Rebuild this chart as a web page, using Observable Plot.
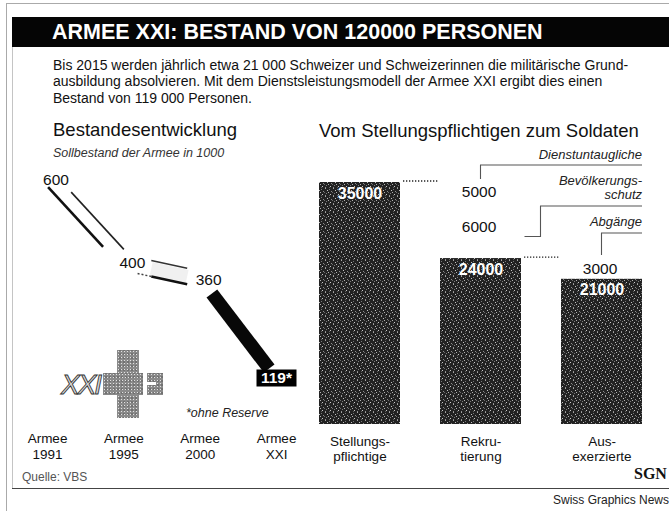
<!DOCTYPE html>
<html>
<head>
<meta charset="utf-8">
<script src="https://cdn.jsdelivr.net/npm/d3@7"></script>
<script src="https://cdn.jsdelivr.net/npm/@observablehq/plot@0.6"></script>
<style>
html, body { margin: 0; padding: 0; background: #fff; }
#page { position: relative; width: 669px; height: 511px; overflow: hidden; background: #fff;
  font-family: "Liberation Sans", Arial, Helvetica, sans-serif; color: #111; }
.abs { position: absolute; white-space: nowrap; line-height: 1; }
.rule { position: absolute; }
#left, #right { position: absolute; }
#left svg, #right svg { overflow: visible; background: transparent; }
.cross { position: absolute; background-color: #8a8a8a;
  background-image: radial-gradient(#e2e2e2 0.7px, transparent 0.9px), radial-gradient(#555 0.6px, transparent 0.8px);
  background-size: 3px 3px, 4px 4px; background-position: 0 0, 1px 2px; }
</style>
</head>
<body>
<div id="page">
  <svg width="0" height="0" style="position:absolute">
    <defs>
      <pattern id="stipple" width="8" height="8" patternUnits="userSpaceOnUse">
        <rect width="8" height="8" fill="#222"/>
        <rect x="1" y="0" width="1" height="1" fill="#a5a5a5"/>
        <rect x="5" y="1" width="1" height="1" fill="#777"/>
        <rect x="3" y="2" width="1" height="1" fill="#c0c0c0"/>
        <rect x="7" y="3" width="1" height="1" fill="#8a8a8a"/>
        <rect x="0" y="4" width="1" height="1" fill="#6a6a6a"/>
        <rect x="4" y="4" width="1" height="1" fill="#b0b0b0"/>
        <rect x="2" y="5" width="1" height="1" fill="#7c7c7c"/>
        <rect x="6" y="6" width="1" height="1" fill="#c8c8c8"/>
        <rect x="1" y="7" width="1" height="1" fill="#909090"/>
        <rect x="5" y="7" width="1" height="1" fill="#5e5e5e"/>
      </pattern>
    </defs>
  </svg>
  <!-- frame -->
  <div class="rule" style="left:6px;top:3px;width:663px;height:1px;background:#aaa"></div>
  <div class="rule" style="left:6px;top:3px;width:1px;height:508px;background:#aaa"></div>
  <div class="rule" style="left:12px;top:47px;width:1px;height:441px;background:#c4c4c4"></div>
  <div class="rule" style="left:12px;top:488px;width:657px;height:1px;background:#444"></div>
  <!-- title bar -->
  <div class="rule" style="left:12px;top:17px;width:657px;height:30px;background:#050505"></div>
  <div class="abs" id="title" style="left:52px;top:22px;font-size:21.5px;font-weight:bold;color:#fff;">ARMEE XXI: BESTAND VON 120000 PERSONEN</div>
  <div class="abs" style="left:53px;top:57px;font-size:14px;line-height:16.3px;color:#111;white-space:pre;">Bis 2015 werden jährlich etwa 21 000 Schweizer und Schweizerinnen die militärische Grund-
ausbildung absolvieren. Mit dem Dienstsleistungsmodell der Armee XXI ergibt dies einen
Bestand von 119 000 Personen.</div>
  <!-- panel headings -->
  <div class="abs" style="left:53px;top:121px;font-size:18.5px;color:#111;">Bestandesentwicklung</div>
  <div class="abs" style="left:53px;top:147px;font-size:12.5px;font-style:italic;color:#333;">Sollbestand der Armee in 1000</div>
  <div class="abs" style="left:319px;top:122px;font-size:18.5px;color:#111;">Vom Stellungspflichtigen zum Soldaten</div>
  <!-- logo -->
  <div class="abs" style="left:61px;top:371px;font-size:28px;font-style:italic;letter-spacing:-2px;color:#d8d8d8;-webkit-text-stroke:0.9px #333;">XXI</div>
  <div class="cross" style="left:117px;top:350px;width:22px;height:68px;"></div>
  <div class="cross" style="left:103px;top:373px;width:40px;height:22px;"></div>
  <div class="cross" style="left:147px;top:373px;width:16px;height:22px;"></div>
  <div class="rule" style="left:147px;top:382px;width:9px;height:3px;background:#fff;"></div>
  <div class="abs" style="left:186px;top:407px;font-size:12.5px;font-style:italic;color:#222;">*ohne Reserve</div>
  <!-- charts -->
  <div id="left" style="left:0px;top:160px;"></div>
  <div id="right" style="left:300px;top:140px;"></div>
  <!-- footer -->
  <div class="abs" style="left:22px;top:471px;font-size:12px;color:#555;">Quelle: VBS</div>
  <div class="abs" style="left:634px;top:466px;font-size:16px;font-weight:bold;font-family:'Liberation Serif',serif;color:#111;">SGN</div>
  <div class="abs" style="left:553px;top:494px;font-size:12px;color:#222;">Swiss Graphics News</div>
</div>
<script>
// ---------- data: left panel ----------
const armeeLabels = ["Armee\n1991", "Armee\n1995", "Armee\n2000", "Armee\nXXI"];
const bestand = [600, 400, 360, 119];          // Sollbestand in 1000
const bestandText = ["600", "400", "360", "119*"];

// ---------- data: right panel ----------
const stages = ["Stellungspflichtige", "Rekrutierung", "Ausexerzierte"];
const stageTicks = ["Stellungs-\npflichtige", "Rekru-\ntierung", "Aus-\nexerzierte"];
const personen = [35000, 24000, 21000];
const personenText = ["35000", "24000", "21000"];
const lossNames = ["Dienstuntaugliche", "Bevölkerungs-\nschutz", "Abgänge"];
const lossValues = [5000, 6000, 3000];
const lossText = ["5000", "6000", "3000"];
const lossStage = ["Rekrutierung", "Rekrutierung", "Ausexerzierte"];

// ---------- left chart ----------
const pts = bestand.map((v, i) => ({i, v, label: bestandText[i]}));
function seg(k, t0, t1) {
  const a = pts[k], b = pts[k + 1];
  return [{x1: a.i + t0 * (b.i - a.i), y1: a.v + t0 * (b.v - a.v),
           x2: a.i + t1 * (b.i - a.i), y2: a.v + t1 * (b.v - a.v)}];
}
const L = {x1: "x1", y1: "y1", x2: "x2", y2: "y2"};
const rectSymbol = { draw(ctx) { ctx.rect(-20, -8.5, 40, 17); } };

const left = Plot.plot({
  width: 310, height: 320,
  marginLeft: 47, marginRight: 34, marginTop: 20, marginBottom: 51,
  style: {background: "transparent", color: "#111", fontFamily: "'Liberation Sans', Arial, sans-serif"},
  x: {domain: [0, armeeLabels.length - 1]},
  y: {domain: [0, 600], axis: null},
  marks: [
    // 1991 -> 1995: outlined ribbon
    Plot.link(seg(0, 0.08, 0.80), {...L, dx: -5.5, stroke: "#111", strokeWidth: 2.6}),
    Plot.link(seg(0, 0.14, 0.83), {...L, dx: 13, stroke: "#222", strokeWidth: 1.6}),
    // 1995 -> 2000: light ribbon
    Plot.link(seg(1, 0.36, 0.83), {...L, dy: -1, stroke: "#f0f0f0", strokeWidth: 13}),
    Plot.link(seg(1, 0.36, 0.83), {...L, dy: -9, stroke: "#333", strokeWidth: 1.5}),
    Plot.link(seg(1, 0.18, 0.36), {...L, dy: 7, stroke: "#444", strokeWidth: 1.5, strokeDasharray: "2,2"}),
    Plot.link(seg(1, 0.36, 0.83), {...L, dy: 7, stroke: "#111", strokeWidth: 2.6}),
    // 2000 -> XXI: solid band
    Plot.link(seg(2, 0.134, 0.884), {...L, dx: 1.5, stroke: "#080808", strokeWidth: 13.5, strokeLinecap: "butt"}),
    // value labels
    Plot.text(pts.slice(0, 3), {x: "i", y: "v", text: "label", dx: 8.5, fontSize: 15.5, fill: "#111"}),
    Plot.dot(pts.slice(3), {x: "i", y: "v", symbol: rectSymbol, r: 10, fill: "#000", stroke: "none", dy: -2}),
    Plot.text(pts.slice(3), {x: "i", y: "v", text: "label", dy: -2, fill: "#fff", fontWeight: "bold", fontSize: 15.5}),
    Plot.axisX(d3.range(armeeLabels.length), {tickFormat: i => armeeLabels[i], tickSize: 0, tickPadding: 2,
      fontSize: 13.5, lineHeight: 1.18, label: null})
  ]
});
document.getElementById("left").append(left);

// ---------- right chart ----------
const bars = stages.map((s, i) => ({stage: s, value: personen[i], text: personenText[i]}));
const losses = lossNames.map((name, i) => {
  const base = personen[stages.indexOf(lossStage[i])];
  let top = base;
  lossValues.forEach((v, j) => { if (lossStage[j] === lossStage[i] && j >= i) top += v; });
  return {name, value: lossValues[i], text: lossText[i], stage: lossStage[i], top};
});

function annotations(index, scales) {
  const x = scales.x, y = scales.y;
  const bw = x.bandwidth ? x.bandwidth() : 0;
  const cx = s => x(s) + bw / 2;
  const right = x(stages[stages.length - 1]) + bw;
  const g = d3.create("svg:g");
  // dotted continuation lines at bar tops
  bars.slice(0, 2).forEach(b => {
    g.append("line")
      .attr("x1", x(b.stage) + bw + 3).attr("x2", x(b.stage) + bw + 38)
      .attr("y1", y(b.value) - 1).attr("y2", y(b.value) - 1)
      .attr("stroke", "#222").attr("stroke-width", 1.3).attr("stroke-dasharray", "1.3,1.7");
  });
  // label column with leader lines
  let leader = y(personen[0]) - 17;
  losses.forEach((d, i) => {
    const lines = d.name.split("\n");
    let first;
    if (i === 0) { first = leader - 11; }
    else { first = leader + 15; leader = first + (lines.length - 1) * 14 + 12; }
    const t = g.append("text").attr("text-anchor", "end").attr("font-style", "italic")
      .attr("font-size", 13).attr("fill", "#222");
    lines.forEach((ln, k) => t.append("tspan").attr("x", right).attr("y", first + k * 14).attr("dy", "0.35em").text(ln));
    const ny = y(d.top) + 10;            // number label centre
    const side = i > 0 && losses[i - 1].stage === d.stage;
    const p = d3.path();
    if (side) {
      p.moveTo(cx(d.stage) + 44, ny + 10); p.lineTo(cx(d.stage) + 60, ny + 10);
      p.lineTo(cx(d.stage) + 60, leader); p.lineTo(right, leader);
    } else {
      p.moveTo(cx(d.stage), ny - 13); p.lineTo(cx(d.stage), leader); p.lineTo(right, leader);
    }
    g.append("path").attr("d", p.toString()).attr("fill", "none").attr("stroke", "#555").attr("stroke-width", 1.1);
  });
  return g.node();
}

const right = Plot.plot({
  width: 369, height: 340,
  marginLeft: 18, marginRight: 26, marginTop: 42, marginBottom: 56,
  style: {background: "transparent", color: "#111", fontFamily: "'Liberation Sans', Arial, sans-serif"},
  x: {domain: stages, paddingInner: 0.33, paddingOuter: 0},
  y: {domain: [0, 35000], axis: null},
  marks: [
    Plot.barY(bars, {x: "stage", y: "value", fill: "url(#stipple)"}),
    Plot.text(bars, {x: "stage", y: "value", text: "text", dy: 11, fill: "#fff", fontWeight: "bold", fontSize: 16}),
    Plot.text(losses, {x: "stage", y: "top", text: "text", dy: 10, dx: -2, fontSize: 15.5, fill: "#111"}),
    annotations,
    Plot.axisX({tickFormat: s => stageTicks[stages.indexOf(s)], tickSize: 0, tickPadding: 10,
      fontSize: 13.5, lineHeight: 1.15, label: null})
  ]
});
document.getElementById("right").append(right);
</script>
</body>
</html>
